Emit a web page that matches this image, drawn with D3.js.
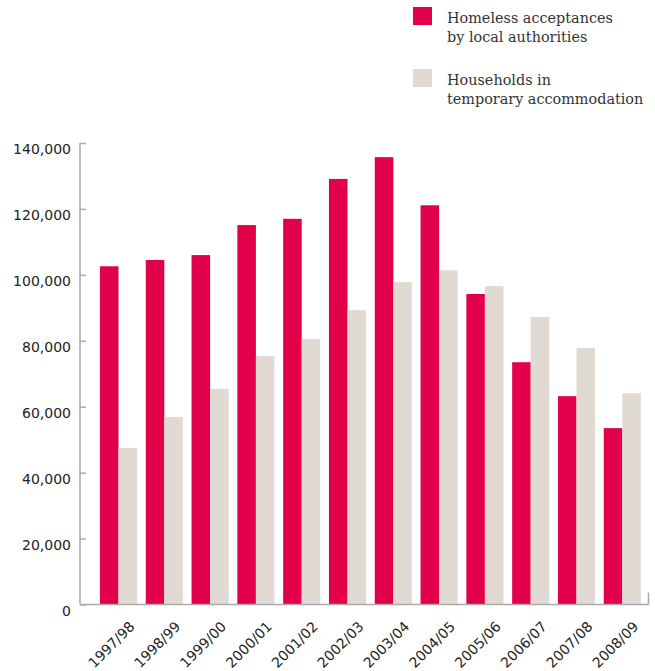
<!DOCTYPE html>
<html>
<head>
<meta charset="utf-8">
<script src="https://cdn.jsdelivr.net/npm/d3@7"></script>
<style>
  body { margin: 0; background: #fff; }
  svg text { fill: #222; }
</style>
</head>
<body>
<div id="chart"></div>
<script>
// data
var years = ["1997/98", "1998/99", "1999/00", "2000/01", "2001/02", "2002/03",
             "2003/04", "2004/05", "2005/06", "2006/07", "2007/08", "2008/09"];
var acceptances = [102600, 104500, 106000, 115100, 117000, 129100,
                   135700, 121100, 94200, 73500, 63200, 53500];
var temporary = [47500, 56900, 65400, 75400, 80500, 89300,
                 97800, 101400, 96600, 87200, 77800, 64100];
var yTicks = [0, 20000, 40000, 60000, 80000, 100000, 120000, 140000];
var seriesNames = ["Homeless acceptances\nby local authorities", "Households in\ntemporary accommodation"];
var colors = ["#e2004a", "#e0dad3"];

var width = 655, height = 671;
var x0 = 80, yBase = 604.5, yTop = 143;

var svg = d3.select("#chart").append("svg")
  .attr("width", width).attr("height", height);

var x = d3.scaleBand().domain(years).range([95.6, 645.2])
  .paddingInner(0.19).paddingOuter(0.095);
var xs = d3.scaleBand().domain([0, 1]).range([0, x.bandwidth()]);
var y = d3.scaleLinear().domain([0, 140000]).range([yBase, yTop]);

var rows = years.map((yr, i) => ({ year: yr, vals: [acceptances[i], temporary[i]] }));

var g = svg.selectAll(".grp").data(rows).enter().append("g")
  .attr("transform", d => `translate(${x(d.year)},0)`);

g.selectAll("rect").data(d => d.vals).enter().append("rect")
  .attr("x", (d, i) => xs(i))
  .attr("width", xs.bandwidth())
  .attr("y", d => y(d))
  .attr("height", d => yBase - y(d))
  .style("fill", (d, i) => colors[i]);

// y axis: ticks point inward
var yAxis = svg.append("g").attr("transform", `translate(${x0},0)`)
  .call(d3.axisRight(y).tickValues(yTicks).tickSize(6).tickSizeOuter(0)
    .tickFormat(d3.format(",")));
yAxis.select(".domain").remove();
yAxis.selectAll(".tick line").attr("stroke", "#aaa").attr("stroke-width", 1.5);
yAxis.selectAll(".tick text")
  .attr("x", -9).attr("dy", "0.76em")
  .attr("text-anchor", "end")
  .style("font-family", "DejaVu Sans").style("font-size", "14px");
svg.append("line").attr("x1", x0).attr("x2", x0).attr("y1", yTop).attr("y2", yBase)
  .attr("stroke", "#aaa").attr("stroke-width", 1.5);

// x axis
var xAxis = svg.append("g").attr("transform", `translate(0,${yBase})`)
  .call(d3.axisBottom(x).tickSize(0).tickSizeOuter(0));
xAxis.select(".domain").remove();
xAxis.selectAll(".tick text")
  .attr("text-anchor", "end")
  .attr("transform", "translate(17,23) rotate(-45)")
  .attr("y", 0).attr("dy", 0)
  .style("font-family", "DejaVu Sans").style("font-size", "14px");
svg.append("line").attr("x1", x0).attr("x2", 648.5).attr("y1", yBase).attr("y2", yBase)
  .attr("stroke", "#aaa").attr("stroke-width", 1.5);
svg.append("line").attr("x1", 648.5).attr("x2", 648.5).attr("y1", yBase).attr("y2", yBase - 12)
  .attr("stroke", "#aaa").attr("stroke-width", 1.5);

// legend
var leg = svg.selectAll(".leg").data(seriesNames).enter().append("g")
  .attr("transform", (d, i) => `translate(413,${7 + i * 62})`);
leg.append("rect").attr("width", 19).attr("height", 18)
  .style("fill", (d, i) => colors[i]);
leg.append("text")
  .style("font-family", "DejaVu Serif").style("font-size", "14.4px")
  .style("fill", "#333")
  .selectAll("tspan").data(d => d.split("\n")).enter().append("tspan")
  .attr("x", 34).attr("y", (d, i) => 16 + i * 19)
  .text(d => d);
</script>
</body>
</html>
